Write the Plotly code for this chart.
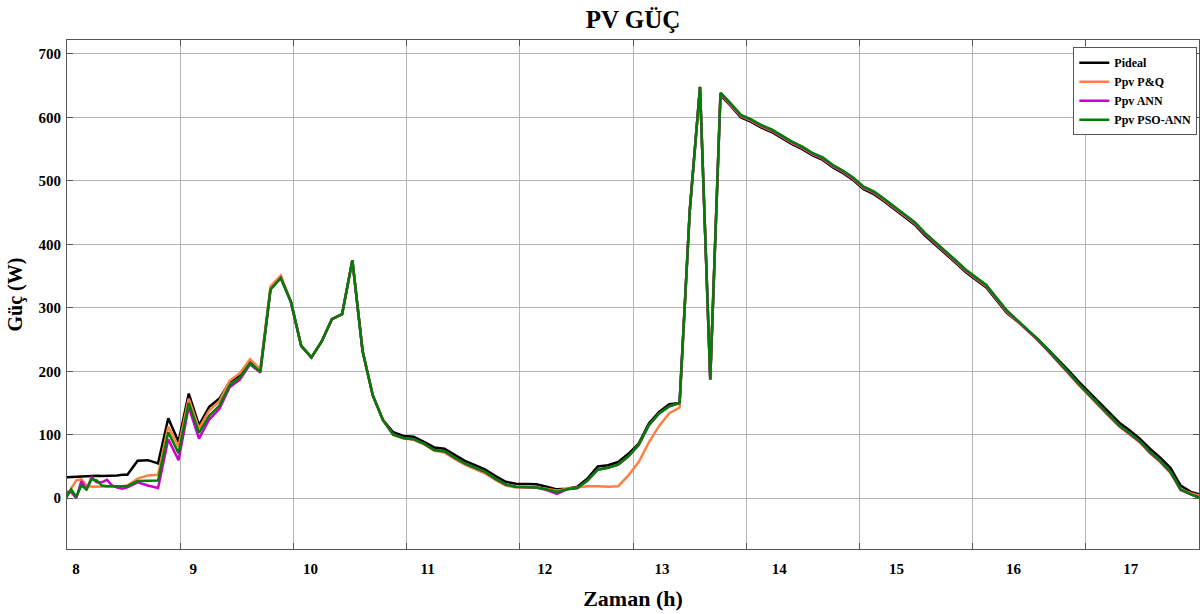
import plotly.graph_objects as go

# ---------------- data ----------------
# sample index: half steps for the first samples, then regular steps
sample_index = [0, 0.5, 1, 1.5, 2, 2.5, 3, 3.5, 4, 4.5, 5, 5.5, 6] + list(range(7, 112))
t_start_h = 7.915
t_step_h = 0.08725
time_h = [t_start_h + t_step_h * i for i in sample_index]

p_ideal = [
    33, 33.5, 34, 34.5, 35, 35.5, 35.5, 35, 35, 36, 36, 37, 37,
    59, 60, 55,
    126, 89, 165, 115, 144, 157, 183,
    194, 216, 201, 331, 349,
    309, 240, 222, 247, 282, 290, 375, 232, 162, 123,
    104, 98, 97, 89, 80, 78, 68, 59, 52, 45, 35, 26, 23, 23, 22, 18, 14, 15, 18,
    31, 50, 52, 57, 70, 86, 118, 136, 148, 150,
    454, 648, 187,
    635, 618, 600, 593, 584, 577, 567, 558, 550, 540,
    533, 521, 512, 501, 487, 479, 468, 456, 444, 431, 414, 400, 386, 371, 356, 344, 332, 312, 292,
    279, 265, 251, 235, 219, 202, 184,
    168, 151, 135, 119, 107, 94, 78, 64, 48, 20, 10, 5,
]

p_pq = [
    2, 15, 28, 30, 20, 18, 18, 18, 18, 18, 18, 19, 20,
    31, 36, 37,
    113, 81, 157, 110, 138, 153, 185,
    197, 219, 203, 334, 351,
    309, 240, 222, 247, 282, 290, 375, 232, 162, 123,
    100, 94, 92, 85, 75, 72, 62, 53, 46, 39, 29, 20, 17, 17, 17, 15, 12, 15, 17,
    19, 19, 18, 19, 36, 57, 88, 114, 134, 143,
    454, 648, 187,
    637, 620, 602, 595, 586, 579, 569, 560, 552, 542,
    535, 523, 514, 503, 489, 481.5, 470, 458, 446, 433, 416, 402, 388, 373, 358, 346, 334, 314, 294,
    279, 264, 249, 232, 215, 197, 179,
    162, 145, 129, 113, 101, 88, 71, 57, 40, 14, 8, 3,
]

p_ann = [
    10, 10, 0, 27, 13, 33, 25, 25, 29, 20, 17, 15, 17,
    25, 20, 16,
    93, 60, 144, 94, 124, 141, 175,
    187, 211, 198, 329, 347,
    309, 240, 222, 247, 282, 290, 375, 232, 162, 123,
    100, 95, 93, 86, 76, 74, 64, 55, 48, 41.5, 30.5, 21.5, 18, 17, 17, 13, 7, 14, 16,
    28, 45, 48, 53, 66, 84, 115, 133.5, 145, 150,
    454, 648, 187,
    638, 621, 603, 596, 587, 580, 570, 561, 553, 543,
    536, 524, 515, 504, 490, 482.5, 471, 459, 447, 434, 417, 403, 389, 374, 359, 347, 335, 315, 295,
    280, 265, 250, 233, 216, 198, 180,
    163, 146, 130, 114, 102, 89, 72, 58, 41, 13, 6, 0,
]

p_pso_ann = [
    0, 14, 2, 20, 14, 30, 28, 20, 19, 19, 19, 19, 19,
    27, 28, 28,
    104, 71, 150, 103, 130, 146, 178,
    190, 213, 199, 329, 347,
    309, 240, 222, 247, 282, 290, 375, 232, 162, 123,
    100, 95, 93, 86, 76, 74, 64, 55, 48, 41.5, 30.5, 21.5, 18, 17, 17, 14, 10, 14, 16,
    28, 45, 48, 53, 66, 84, 115, 133.5, 145, 150,
    454, 648, 187,
    639, 622, 604, 597, 588, 581, 571, 562, 554, 544,
    537, 525, 516, 505, 491, 483.5, 472, 460, 448, 435, 418, 404, 390, 375, 360, 348, 336, 316, 296,
    281, 266, 251, 234, 217, 199, 181,
    164, 147, 131, 115, 103, 90, 73, 59, 42, 14, 6, 0,
]

series_names = ["Pideal", "Ppv P&Q", "Ppv ANN", "Ppv PSO-ANN"]
series_colors = ["#000000", "#FF7F45", "#CC00CC", "#007F00"]

x_tick_hours = [8, 9, 10, 11, 12, 13, 14, 15, 16, 17]
x_grid_count = 10
y_tick_values = [0, 100, 200, 300, 400, 500, 600, 700]

# ---------------- figure ----------------
FONT = "Liberation Serif"
GRID = "#b4b4b4"
AXC = "#555555"
FIG_W, FIG_H = 1200, 614

fig = go.Figure()

# holder trace so the grid axis is drawn
fig.add_trace(go.Scatter(x=[0, x_grid_count], y=[None, None], xaxis="x", yaxis="y",
                         mode="lines", showlegend=False, hoverinfo="skip"))

for name, vals, color in zip(series_names, [p_ideal, p_pq, p_ann, p_pso_ann], series_colors):
    fig.add_trace(go.Scatter(x=time_h, y=vals, xaxis="x2", yaxis="y", mode="lines",
                             name=name, line=dict(color=color, width=2.5)))

fig.update_layout(
    width=FIG_W, height=FIG_H,
    margin=dict(l=67, r=1, t=40, b=65, autoexpand=False),
    paper_bgcolor="white", plot_bgcolor="white",
    font=dict(family=FONT, color="black"),
    title=dict(text="<b>PV GÜÇ</b>", x=0.5, xref="paper", y=1 - 19 / FIG_H, yref="container",
               xanchor="center", yanchor="middle", automargin=False,
               font=dict(family=FONT, size=25, color="black")),
    showlegend=True,
    legend=dict(x=0.9985, y=0.986, xanchor="right", yanchor="top",
                bgcolor="white", bordercolor="#555555", borderwidth=1,
                font=dict(family=FONT, size=12, color="black", weight="bold"),
                itemwidth=30, tracegroupgap=0),
    xaxis=dict(range=[0, x_grid_count], dtick=1, tick0=0, showgrid=True, gridcolor=GRID, gridwidth=1,
               showticklabels=False, ticks="inside", ticklen=6, tickcolor=AXC, automargin=False,
               showline=True, linecolor=AXC, linewidth=1, mirror="ticks", zeroline=False),
    xaxis2=dict(overlaying="x", anchor="y", side="bottom", range=[7.9233, 17.582],
                tickmode="array", tickvals=x_tick_hours, ticktext=[str(v) for v in x_tick_hours],
                showgrid=False, zeroline=False, ticks="", showline=False, automargin=False,
                ticklabelstandoff=9,
                tickfont=dict(family=FONT, size=15, color="black", weight="bold"),
                title=dict(text="<b>Zaman (h)</b>", font=dict(family=FONT, size=22, color="black"),
                           standoff=14)),
    yaxis=dict(range=[-80, 722], tickmode="array", tickvals=y_tick_values,
               showgrid=True, gridcolor=GRID, gridwidth=1, zeroline=False, automargin=False,
               ticks="inside", ticklen=6, tickcolor=AXC, ticklabelstandoff=2,
               showline=True, linecolor=AXC, linewidth=1, mirror="ticks",
               tickfont=dict(family=FONT, size=15, color="black", weight="bold"),
               title=dict(text="<b>Güç (W)</b>", font=dict(family=FONT, size=20, color="black"),
                          standoff=10)),
)

# remove the page's default body margin so the figure fills the window exactly
fig.write_html("out.html", config={"displayModeBar": False},
               post_script="document.body.style.margin='0';document.body.style.overflow='hidden';")
